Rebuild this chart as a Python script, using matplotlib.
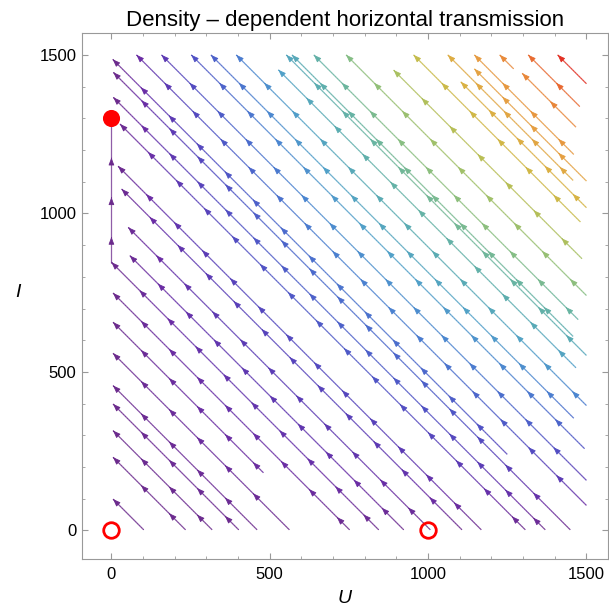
import numpy as np
import matplotlib
matplotlib.use('Agg')
import matplotlib.pyplot as plt
from matplotlib.colors import LinearSegmentedColormap, Normalize
from matplotlib.collections import LineCollection

# model: U = uninfected, I = infected, density-dependent transmission beta*U*I
beta = 1e-3
r_u, r_i = 1e-5, 1e-5
k_u, k_i = 1000.0, 1300.0
i_top = 1500.0

# streamline seeds (lower right end of each line)
# and the U value where the line stops (0 = runs to the axis / top edge)
seed_u = [102, 234, 318, 402, 460, 562, 480, 752, 844, 0, 923, 1007, 1107,
          1168, 1307, 1370, 1449, 1250,
          1500, 1500, 1494, 1460, 1500, 1467, 1500, 1458, 1474, 1500, 1486,
          1481, 1500, 1458, 1500, 1460, 1467, 1270, 1479, 1500]
seed_i = [2, 2, 2, 2, 2, 2, 182, 2, 2, 845, 2, 2, 2,
          2, 2, 2, 2, 240,
          79, 158, 258, 354, 394, 513, 552, 612, 665, 741, 857,
          973, 1018, 1104, 1102, 1186, 1272, 1456, 1337, 1409]
stop_u = [5, 5, 5, 5, 5, 5, 5, 5, 0, 0, 58, 53, 32,
          21, 27, 6, 6, 4,
          0, 0, 0, 0, 0, 527, 0, 0, 0, 0, 891,
          0, 1103, 0, 1146, 0, 1297, 0, 0, 0]

# equilibria
open_u = [0, 1000]
open_i = [0, 0]
stable_u = [0]
stable_i = [1300]

# streamline colour by local field strength (fraction of the strongest)
speed_pos = [0.0, 0.05, 0.10, 0.17, 0.23, 0.28, 0.34, 0.40, 0.45, 0.50, 0.57,
             0.64, 0.69, 0.74, 0.80, 0.85, 0.88, 0.94, 1.0]
speed_col = ['#6b2a8c', '#6a2ca4', '#5c38b2', '#4f50c4', '#4a6acc', '#4a84d0',
             '#50a0c8', '#5aacb0', '#68b4a0', '#88be80', '#a6c062', '#c6bc4a',
             '#d8b242', '#e4a242', '#e8903c', '#e88036', '#e86a30', '#e23024',
             '#dd2020']
cmap = LinearSegmentedColormap.from_list('speed', list(zip(speed_pos, speed_col)))


def field(u, i):
    du = r_u * u * (1 - (u + i) / k_u) - beta * u * i
    di = r_i * i * (1 - (u + i) / k_i) + beta * u * i
    return du, di


def strength(u, i):
    du, di = field(u, i)
    return np.hypot(du, di)


norm = Normalize(0, strength(1500.0, 1500.0))


def trace(u0, i0, u_end, step=3.0):
    us, iis = [u0], [i0]
    u, i = u0, i0
    prev = None
    for _ in range(5000):
        du, di = field(u, i)
        speed = np.hypot(du, di)
        if speed == 0:
            break
        d = np.array([du, di]) / speed
        if prev is not None and d @ prev < 0:
            break
        prev = d
        un, inn = u + step * d[0], i + step * d[1]
        if un < u_end:
            t = (u - u_end) / (u - un)
            us.append(u_end)
            iis.append(i + t * (inn - i))
            break
        if inn > i_top:
            t = (i_top - i) / (inn - i)
            us.append(u + t * (un - u))
            iis.append(i_top)
            break
        u, i = un, inn
        us.append(u)
        iis.append(i)
    return np.array(us), np.array(iis)


plt.rcParams['font.family'] = ['Liberation Sans', 'DejaVu Sans']
fig = plt.figure(figsize=(6.09, 6.13), dpi=100)
ax = fig.add_axes([0.1346, 0.0881, 0.8637, 0.8581])

arrow_gap = 125.0
for u0, i0, ue in zip(seed_u, seed_i, stop_u):
    us, iis = trace(u0, i0, ue)
    pts = np.column_stack([us, iis])
    segs = np.stack([pts[:-1], pts[1:]], axis=1)
    mid = 0.5 * (pts[:-1] + pts[1:])
    lc = LineCollection(segs, cmap=cmap, norm=norm, linewidths=0.85,
                        capstyle='butt')
    lc.set_array(strength(mid[:, 0], mid[:, 1]))
    ax.add_collection(lc)

    s = np.concatenate([[0], np.cumsum(np.hypot(np.diff(us), np.diff(iis)))])
    sk = s[-1]
    while True:
        tip = (np.interp(sk, s, us), np.interp(sk, s, iis))
        tail = (np.interp(sk - 3, s, us), np.interp(sk - 3, s, iis))
        col = cmap(norm(strength(*tip)))
        ax.annotate('', xy=tip, xytext=tail,
                    arrowprops=dict(arrowstyle='-|>,head_length=0.45,head_width=0.17',
                                    color=col, lw=0.6, shrinkA=0, shrinkB=0,
                                    mutation_scale=10))
        sk -= arrow_gap
        if sk < 0.35 * arrow_gap:
            break

ax.plot(open_u, open_i, 'o', ms=11.2, mfc='none', mec='red', mew=2.0, zorder=5)
ax.plot(stable_u, stable_i, 'o', ms=11.3, color='red', zorder=5)

ax.set_xlim(-93, 1568)
ax.set_ylim(-90, 1569)
ax.set_xticks([0, 500, 1000, 1500])
ax.set_yticks([0, 500, 1000, 1500])
ax.set_xticks(np.arange(0, 1501, 100), minor=True)
ax.set_yticks(np.arange(0, 1501, 100), minor=True)
ax.tick_params(which='both', direction='in', top=True, right=True, color='#999999')
ax.tick_params(which='major', length=4, width=0.8, labelsize=12, labelcolor='black')
ax.tick_params(axis='x', which='major', pad=6)
ax.tick_params(axis='y', which='major', pad=4)
ax.tick_params(which='minor', length=2.3, width=0.6)
for sp in ax.spines.values():
    sp.set_color('#999999')
    sp.set_linewidth(0.8)

ax.set_title('Density \u2013 dependent horizontal transmission', fontsize=16, pad=5)
ax.set_xlabel('U', fontsize=14, style='italic')
ax.xaxis.set_label_coords(0.5, -0.058)
ax.set_ylabel('I', fontsize=14, style='italic', rotation=0, ha='center', va='center')
ax.yaxis.set_label_coords(-0.122, 0.506)

fig.savefig('out.png', dpi=100)
